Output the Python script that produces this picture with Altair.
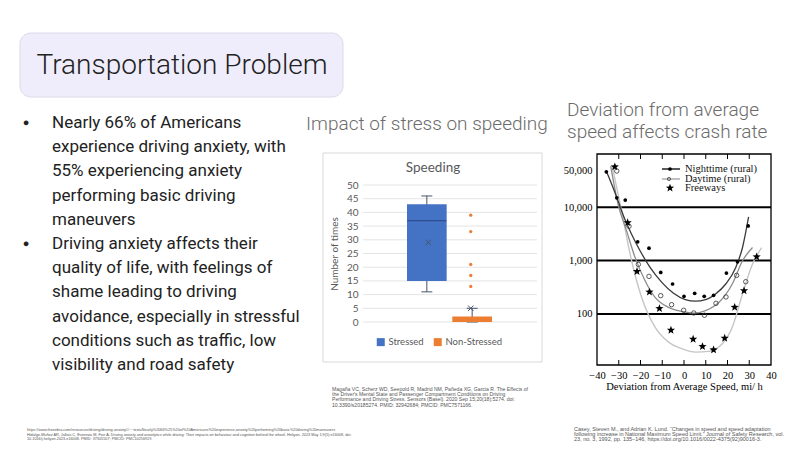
import altair as alt
import pandas as pd

W, H = 806, 453

# ---------------- slide text ----------------
title_text = "Transportation Problem"
bullet_lines = [
    "Nearly 66% of Americans",
    "experience driving anxiety, with",
    "55% experiencing anxiety",
    "performing basic driving",
    "maneuvers",
    "Driving anxiety affects their",
    "quality of life, with feelings of",
    "shame leading to driving",
    "avoidance, especially in stressful",
    "conditions such as traffic, low",
    "visibility and road safety",
]
bullet_rows = [0, 5]          # lines of bullet_lines that start a bullet
bullet_symbol = "●"
speed_heading = "Impact of stress on speeding"
crash_heading = ["Deviation from average", "speed affects crash rate"]
cite_speed = [
    "Magaña VC, Scherz WD, Seepold R, Madrid NM, Pañeda XG, Garcia R. The Effects of",
    "the Driver's Mental State and Passenger Compartment Conditions on Driving",
    "Performance and Driving Stress. Sensors (Basel). 2020 Sep 15;20(18):5274. doi:",
    "10.3390/s20185274. PMID: 32942684; PMCID: PMC7571166.",
]
cite_crash = [
    "Casey, Steven M., and Adrian K. Lund. “Changes in speed and speed adaptation",
    "following increase in National Maximum Speed Limit.” Journal of Safety Research, vol.",
    "23, no. 3, 1992, pp. 135–146, https://doi.org/10.1016/0022-4375(92)90016-3.",
]
cite_left = [
    "https://www.thezebra.com/resources/driving/driving-anxiety/#:~:text=Nearly%2066%25%20of%20Americans%20experience,anxiety%20performing%20basic%20driving%20maneuvers",
    "Hidalgo-Muñoz AR, Jallais C, Evennou M, Fort A. Driving anxiety and anxiolytics while driving: Their impacts on behaviour and cognition behind the wheel. Heliyon. 2023 May 1;9(5):e16008. doi:",
    "10.1016/j.heliyon.2023.e16008. PMID: 37305507; PMCID: PMC10256919.",
]

# ---------------- speeding box plot ----------------
groups = ["Stressed", "Non-Stressed"]
box_q1 = [15, 0]
box_q3 = [43, 2]
box_median = [37, 0]
whisker_low = [11, 0]
whisker_high = [46, 5]
box_mean = [29, 5]
ns_outliers = [13, 17, 21, 33, 39]
speed_ticks = [0, 5, 10, 15, 20, 25, 30, 35, 40, 45, 50]
speed_title = "Speeding"
speed_ytitle = "Number of times"
group_colors = ["#4472C4", "#ED7D31"]

# ---------------- crash rate chart ----------------
night_x = [-35.7, -30.9, -27.0, -21.3, -16.1, -10.7, -5.25, 0.0, 4.9, 9.3, 13.6, 19.5, 24.6, 29.5]
night_y = [46400, 15100, 13700, 2250, 1710, 600, 364, 214, 243, 214, 223, 584, 950, 4480]
day_x = [-30.9, -25.3, -21.0, -16.1, -10.7, -5.7, -0.15, 4.5, 9.4, 14.7, 19.3, 24.2, 28.4]
day_y = [48000, 4410, 848, 506, 220, 149, 117, 104, 94.4, 158, 208, 528, 402]
free_x = [-31.8, -25.9, -21.6, -15.9, -11.3, -6.0, 4.2, 8.5, 13.6, 18.7, 23.3, 27.6, 33.4]
free_y = [57600, 5160, 627, 258, 126, 49.5, 33.6, 24.5, 21.2, 35.1, 133, 273, 1180]

night_curve_x = [-35.4, -32.6, -30.3, -27.2, -24.1, -20.2, -15.6, -10.2, -4.8, 0.6, 5.3, 9.9, 14.5, 19.2, 23.8, 26.9, 29.7]
night_curve_y = [44500, 23300, 13100, 5970, 3130, 1530, 745, 391, 243, 185, 173, 185, 237, 364, 745, 1760, 6590]
day_curve_x = [-33.7, -30.3, -26.4, -22.5, -17.9, -13.3, -7.1, -0.9, 4.5, 9.9, 16.1, 22.2, 26.9, 31.5]
day_curve_y = [59300, 11400, 3610, 1150, 420, 205, 133, 111, 103, 115, 165, 364, 993, 1760]
free_curve_x = [-33.0, -28.7, -24.1, -19.5, -13.3, -7.1, -0.9, 5.3, 11.4, 17.6, 22.2, 26.9, 31.5, 35.7]
free_curve_y = [59300, 8530, 993, 205, 56.4, 29.5, 22.2, 19.2, 19.8, 27.5, 56.4, 237, 861, 1760]

crash_x_ticks = [-40, -30, -20, -10, 0, 10, 20, 30, 40]
crash_inner_ticks = [-30, -20, -10, 0, 10, 20, 30]
crash_y_labels = [100, 1000, 10000, 50000]
crash_grid = [100, 1000, 10000]
crash_xtitle = "Deviation from Average Speed, mi/ h"
crash_legend = ["Nighttime (rural)", "Daytime (rural)", "Freeways"]

STAR = "M0,-1L0.247,-0.34L0.951,-0.309L0.399,0.13L0.588,0.809L0,0.42L-0.588,0.809L-0.399,0.13L-0.951,-0.309L-0.247,-0.34Z"
XMARK = "M-1,-1L1,1M-1,1L1,-1"
SERIF = "Liberation Serif"

one = pd.DataFrame({"k": [0]})
LINE_H = 24.2


def txt(text, x, y, size, color="#222", font="Roboto", weight=400, align="left", lh=None):
    # y is the centre of the first line
    kw = dict(text=text, fontSize=size, font=font, fontWeight=weight, color=color,
              align=align, baseline="middle")
    if lh is not None:
        kw["lineHeight"] = lh
    return alt.Chart(one).mark_text(**kw).encode(x=alt.value(x), y=alt.value(y))


layers = []

# title box
layers.append(alt.Chart(one).mark_rect(cornerRadius=11, fill="#EFEDFB", stroke="#DCDAEA", strokeWidth=1)
              .encode(x=alt.value(20), x2=alt.value(343), y=alt.value(33), y2=alt.value(97)))
layers.append(txt(title_text, 182, 66, 28, color="#222", weight=300, align="center"))

# bullets
layers.append(txt(bullet_lines, 52, 123, 17, color="#222", lh=LINE_H))
for r in bullet_rows:
    layers.append(txt(bullet_symbol, 26, 123 + r * LINE_H, 11, color="#222", align="center"))

# headings
layers.append(txt(speed_heading, 306, 124, 19, color="#6b6b6b", weight=300))
layers.append(txt(crash_heading, 567, 110, 19, color="#6b6b6b", weight=300, lh=21.5))

# citations
layers.append(txt(cite_speed, 332, 389, 5.1, color="#555", font="Liberation Sans", lh=5.2))
layers.append(txt(cite_crash, 574, 429, 5.5, color="#555", font="Liberation Sans", lh=5.2))
layers.append(txt(cite_left, 27, 430, 3.8, color="#555", font="Liberation Sans", lh=4.6))

# ---------- speeding chart ----------
sy = alt.Scale(domain=[0, 50], range=[322, 185], nice=False, zero=False)
sx = alt.Scale(domain=groups, range=[407, 492], paddingInner=0.125, paddingOuter=0)

layers.append(alt.Chart(one).mark_rect(fill="white", stroke="#D9D9D9", strokeWidth=1)
              .encode(x=alt.value(323), x2=alt.value(542), y=alt.value(153), y2=alt.value(362)))
layers.append(txt(speed_title, 433, 168, 13.5, color="#595959", font="Lato", align="center"))

grid_df = pd.DataFrame({"v": speed_ticks})
layers.append(alt.Chart(grid_df).mark_rule(color="#DDDDDD", strokeWidth=0.8).encode(
    y=alt.Y("v:Q", scale=sy, axis=alt.Axis(
        orient="left", offset=-363, values=speed_ticks, domain=False, ticks=False, grid=False,
        labelPadding=5, labelFont="Lato", labelFontSize=10, labelColor="#595959",
        labelFlush=False, labelOverlap=False, zindex=2,
        title=speed_ytitle, titleFont="Lato", titleFontSize=10, titleFontWeight="normal",
        titleColor="#595959", titlePadding=7)),
    x=alt.value(363), x2=alt.value(537)))

box_df = pd.DataFrame({"group": groups, "q1": box_q1, "q3": box_q3, "median": box_median,
                       "lo": whisker_low, "hi": whisker_high, "mean": box_mean})
bx = alt.X("group:N", scale=sx, axis=None)
base = alt.Chart(box_df)
layers.append(base.mark_rule(color="#44546A", strokeWidth=1).encode(
    x=bx, y=alt.Y("lo:Q", scale=sy, axis=None), y2="hi:Q"))
layers.append(base.mark_tick(color="#44546A", size=11, thickness=1, opacity=1).encode(
    x=bx, y=alt.Y("lo:Q", scale=sy, axis=None)))
layers.append(base.mark_tick(color="#44546A", size=11, thickness=1, opacity=1).encode(
    x=bx, y=alt.Y("hi:Q", scale=sy, axis=None)))
layers.append(base.mark_bar(opacity=1).encode(
    x=bx, y=alt.Y("q1:Q", scale=sy, axis=None), y2="q3:Q",
    color=alt.Color("group:N", scale=alt.Scale(domain=groups, range=group_colors),
                    legend=alt.Legend(orient="none", legendX=376, legendY=337, direction="horizontal",
                                      title=None, symbolType="square", symbolSize=64,
                                      symbolStrokeWidth=0, labelFont="Lato", labelFontSize=9.5,
                                      labelColor="#595959", columnPadding=9, labelOffset=3))))
layers.append(alt.Chart(box_df.iloc[[0]]).mark_tick(color="#2F4E8F", size=39, thickness=1.3, opacity=1).encode(
    x=bx, y=alt.Y("median:Q", scale=sy, axis=None)))
layers.append(base.mark_point(shape=XMARK, filled=False, size=30, strokeWidth=1, color="#44546A", opacity=1).encode(
    x=bx, y=alt.Y("mean:Q", scale=sy, axis=None)))
out_df = pd.DataFrame({"group": ["Non-Stressed"] * len(ns_outliers), "v": ns_outliers})
layers.append(alt.Chart(out_df).mark_circle(size=11, color="#ED7D31", opacity=1).encode(
    x=bx, y=alt.Y("v:Q", scale=sy, axis=None)))

# ---------- crash rate chart ----------
cx = alt.Scale(domain=[-40, 40], range=[597, 771], nice=False, zero=False)
cy = alt.Scale(type="log", domain=[11, 100000], range=[365, 154], nice=False)

layers.append(alt.Chart(one).mark_rect(fillOpacity=0, stroke="black", strokeWidth=1.3)
              .encode(x=alt.value(597), x2=alt.value(771), y=alt.value(154), y2=alt.value(365)))

layers.append(alt.Chart(pd.DataFrame({"v": crash_grid})).mark_rule(color="black", strokeWidth=2).encode(
    y=alt.Y("v:Q", scale=cy, axis=alt.Axis(
        orient="left", offset=-597, values=crash_y_labels, format=",", domain=False, ticks=False,
        grid=False, labelPadding=5, labelFont=SERIF, labelFontSize=10.5, labelColor="black",
        labelFlush=False, labelOverlap=False, title=None)),
    x=alt.value(597), x2=alt.value(771)))

tick_df = pd.DataFrame({"v": crash_inner_ticks})
layers.append(alt.Chart(tick_df).mark_tick(color="black", size=5, thickness=1, opacity=1).encode(
    x=alt.X("v:Q", scale=cx, axis=alt.Axis(
        orient="bottom", offset=-88, values=crash_x_ticks, domain=False, ticks=False, grid=False,
        labelPadding=5, labelFont=SERIF, labelFontSize=10.5, labelColor="black",
        labelFlush=False, labelOverlap=False,
        title=crash_xtitle, titleFont=SERIF, titleFontSize=10.5, titleFontWeight="normal",
        titleColor="black", titlePadding=1)),
    y=alt.value(362.5)))
layers.append(alt.Chart(tick_df).mark_tick(color="black", size=5, thickness=1, opacity=1).encode(
    x=alt.X("v:Q", scale=cx, axis=None), y=alt.value(156.5)))


def curve(xs, ys, color, width):
    return alt.Chart(pd.DataFrame({"x": xs, "y": ys})).mark_line(
        color=color, strokeWidth=width, interpolate="monotone").encode(
        x=alt.X("x:Q", scale=cx, axis=None), y=alt.Y("y:Q", scale=cy, axis=None))


layers.append(curve(free_curve_x, free_curve_y, "#c6c6c6", 1.4))
layers.append(curve(day_curve_x, day_curve_y, "#8c8c8c", 1.3))
layers.append(curve(night_curve_x, night_curve_y, "#3a3a3a", 1.3))

layers.append(alt.Chart(pd.DataFrame({"x": night_x, "y": night_y})).mark_circle(
    size=14, color="black", opacity=1).encode(
    x=alt.X("x:Q", scale=cx, axis=None), y=alt.Y("y:Q", scale=cy, axis=None)))
layers.append(alt.Chart(pd.DataFrame({"x": day_x, "y": day_y})).mark_point(
    shape="circle", filled=False, size=20, strokeWidth=0.8, color="#333", opacity=1).encode(
    x=alt.X("x:Q", scale=cx, axis=None), y=alt.Y("y:Q", scale=cy, axis=None)))
layers.append(alt.Chart(pd.DataFrame({"x": free_x, "y": free_y})).mark_point(
    shape=STAR, filled=True, size=75, color="black", opacity=1).encode(
    x=alt.X("x:Q", scale=cx, axis=None), y=alt.Y("y:Q", scale=cy, axis=None)))

# crash legend
layers.append(alt.Chart(one).mark_rule(color="#222", strokeWidth=1.5).encode(
    x=alt.value(662), x2=alt.value(680), y=alt.value(169)))
layers.append(alt.Chart(one).mark_circle(size=14, color="black", opacity=1).encode(
    x=alt.value(670), y=alt.value(169)))
layers.append(alt.Chart(one).mark_rule(color="#999", strokeWidth=1.2).encode(
    x=alt.value(662), x2=alt.value(680), y=alt.value(179)))
layers.append(alt.Chart(one).mark_point(shape="circle", filled=False, size=10, strokeWidth=0.8,
                                        color="#333", opacity=1).encode(
    x=alt.value(669), y=alt.value(179)))
layers.append(alt.Chart(one).mark_point(shape=STAR, filled=True, size=75, color="black", opacity=1).encode(
    x=alt.value(670), y=alt.value(188)))
layers.append(txt(crash_legend, 685, 169, 10.5, color="#111", font=SERIF, lh=9.5))

chart = alt.layer(*layers).resolve_scale(
    x="independent", y="independent", color="independent"
).properties(
    width=W, height=H, background="white", padding=0,
    autosize=alt.AutoSizeParams(type="none"),
).configure_view(stroke=None)

chart.save("out.html", embed_options={"renderer": "svg", "actions": False})
